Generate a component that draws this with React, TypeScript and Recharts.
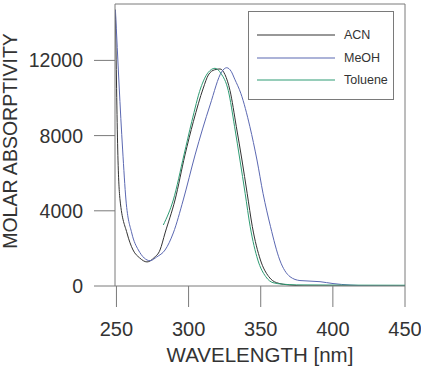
import React from 'react';
import {
  LineChart,
  Line,
  XAxis,
  YAxis,
  Legend,
  ReferenceLine
} from 'recharts';

// Absorption spectra in three solvents (wavelength in nm, molar absorptivity)
const acnNm = [249.3, 250.9, 252.5, 257.3, 261.5, 266, 271.2, 276, 280.2, 283.7, 290.6, 297.5, 303.3, 310.2, 313.7, 318, 321.8, 325.2, 328.7, 333.1, 337.0, 340.6, 344.2, 349.8, 355.6, 361, 370.3, 380, 450];
const acnAbs = [14700, 7235, 4575, 2820, 1915, 1500, 1280, 1500, 1915, 2820, 4575, 6970, 8740, 10530, 11225, 11500, 11545, 11250, 10400, 8473, 6702, 4931, 3154, 1383, 495, 176, 50, 10, 0];

const meohNm = [249.3, 254.3, 256.6, 260.6, 265.2, 273.3, 278, 283.7, 289.4, 296.3, 304.5, 314.9, 323.0, 326.4, 329.5, 332, 336.2, 342.5, 347.4, 351.6, 356.8, 363.2, 370.3, 377.2, 391.1, 400.1, 411.9, 425, 450];
const meohAbs = [14680, 7235, 4575, 2820, 1915, 1346, 1550, 1915, 2820, 4575, 6970, 9630, 11400, 11610, 11420, 11000, 10250, 8473, 6702, 4931, 3154, 1383, 495, 290, 230, 130, 50, 10, 0];

const tolNm = [282.5, 289.4, 296.8, 302.2, 308.4, 313.5, 318.3, 322.5, 327.5, 331.9, 335.6, 339.2, 342.7, 348, 353.5, 358.5, 365, 375, 450];
const tolAbs = [3245, 4575, 6970, 8740, 10530, 11350, 11580, 11300, 10400, 8473, 6702, 4931, 3154, 1383, 495, 176, 100, 60, 40];

const xTicks = [250, 300, 350, 400, 450];
const yTicks = [0, 4000, 8000, 12000];

const toPoints = (nm: number[], abs: number[]) => nm.map((x, i) => ({ nm: x, abs: abs[i] }));

const series = [
  { name: 'ACN', color: '#333333', data: toPoints(acnNm, acnAbs) },
  { name: 'MeOH', color: '#5b68b2', data: toPoints(meohNm, meohAbs) },
  { name: 'Toluene', color: '#2f9c74', data: toPoints(tolNm, tolAbs) }
];

const FONT = '"Liberation Sans", Arial, sans-serif';
const FRAME = '#7a7a7a';

function SolventLegend({ payload }: any) {
  return (
    <div
      style={{
        width: 146,
        height: 89,
        border: `1px solid ${FRAME}`,
        background: '#fff',
        boxSizing: 'border-box',
        fontFamily: FONT,
        fontSize: 12.5,
        color: '#333'
      }}
    >
      {(payload || []).map((p: any, i: number) => (
        <div
          key={p.value}
          style={{ display: 'flex', alignItems: 'center', height: 22.5, marginTop: i === 0 ? 12 : 0 }}
        >
          <svg width={95} height={10} style={{ display: 'block' }}>
            <line x1={8} x2={86} y1={5} y2={5} stroke={p.color} strokeWidth={1.2} />
          </svg>
          <span>{p.value}</span>
        </div>
      ))}
    </div>
  );
}

export default function App() {
  return (
    <div style={{ position: 'absolute', left: 0, top: 0, background: '#fff' }}>
      <LineChart width={421} height={367} margin={{ top: 4, right: 16, bottom: 0, left: 0 }}>
        <XAxis
          type="number"
          dataKey="nm"
          domain={[249, 450]}
          ticks={xTicks}
          allowDataOverflow
          height={81}
          tickSize={21}
          tickMargin={15}
          stroke={FRAME}
          tick={{ fill: '#333', fontSize: 20, fontFamily: FONT }}
          label={{
            content: ({ viewBox }: any) => (
              <text
                x={viewBox.x + viewBox.width / 2}
                y={viewBox.y + 76}
                textAnchor="middle"
                fill="#333"
                fontSize={20.5}
                fontFamily={FONT}
              >
                WAVELENGTH [nm]
              </text>
            )
          }}
        />
        <YAxis
          type="number"
          domain={[0, 15000]}
          ticks={yTicks}
          allowDataOverflow
          width={115}
          tickSize={21}
          tickMargin={11}
          stroke={FRAME}
          tick={{ fill: '#333', fontSize: 19.5, fontFamily: FONT }}
          label={{
            content: ({ viewBox }: any) => {
              const cx = 10;
              const cy = viewBox.y + viewBox.height / 2 - 4;
              return (
                <text
                  x={cx}
                  y={cy}
                  transform={`rotate(-90 ${cx} ${cy})`}
                  textAnchor="middle"
                  dominantBaseline="central"
                  fill="#333"
                  fontSize={19.5}
                  fontFamily={FONT}
                >
                  MOLAR ABSORPTIVITY
                </text>
              );
            }
          }}
        />
        <ReferenceLine y={15000} stroke={FRAME} ifOverflow="extendDomain" />
        <ReferenceLine x={450} stroke={FRAME} ifOverflow="extendDomain" />
        <Legend
          layout="vertical"
          align="center"
          verticalAlign="middle"
          wrapperStyle={{ left: 248, top: 11, width: 146 }}
          content={<SolventLegend />}
        />
        {series.map(s => (
          <Line
            key={s.name}
            name={s.name}
            data={s.data}
            dataKey="abs"
            type="monotone"
            stroke={s.color}
            strokeWidth={1}
            dot={false}
            activeDot={false}
            isAnimationActive={false}
          />
        ))}
      </LineChart>
    </div>
  );
}
